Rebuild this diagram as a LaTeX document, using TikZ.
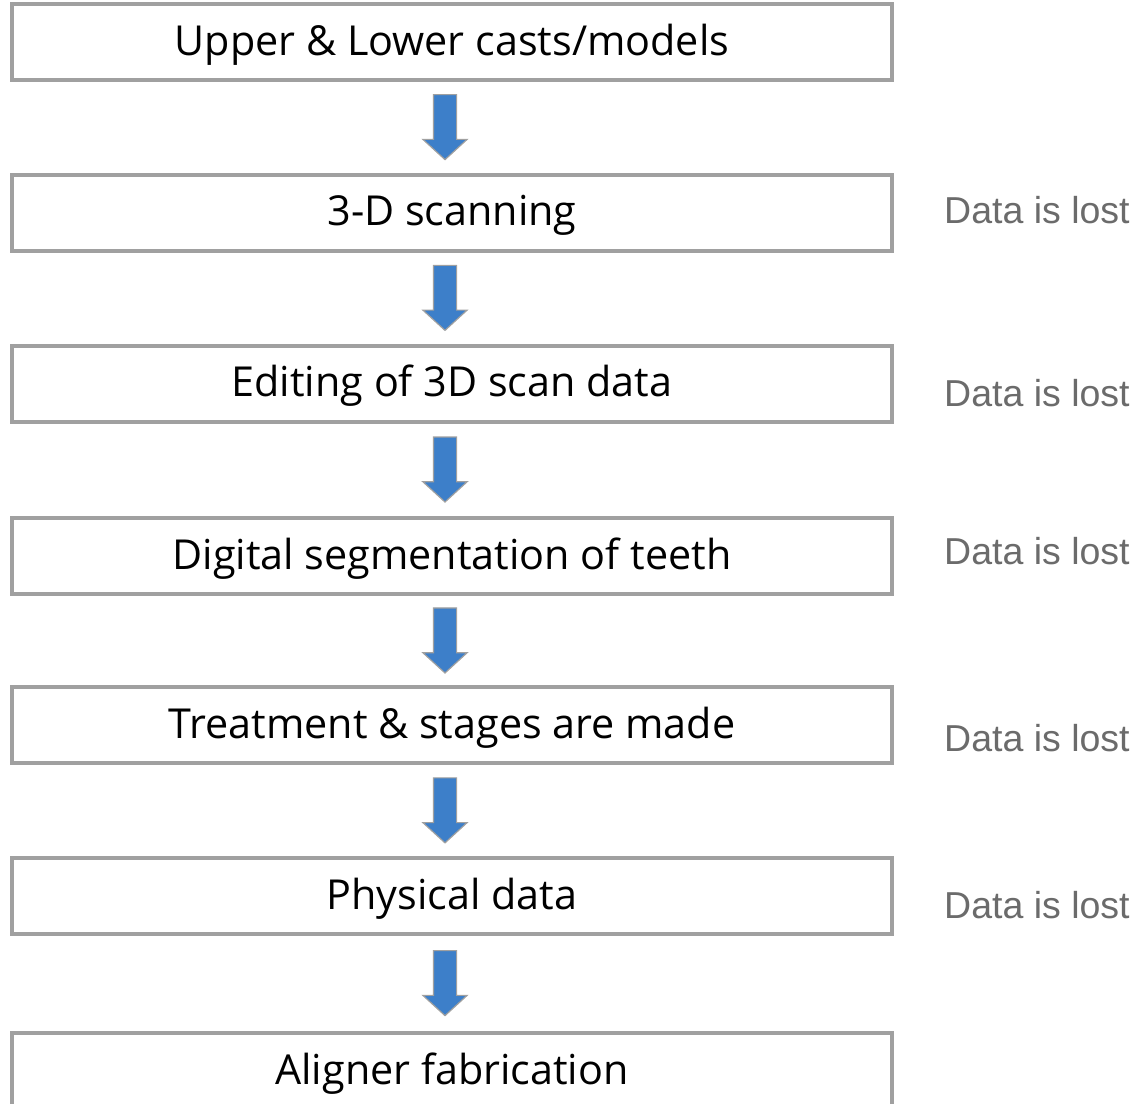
\documentclass[tikz,border=0pt]{standalone}
\usepackage{fontspec}
\setmainfont{Open Sans}
\newfontfamily\lostfont{Liberation Sans}
\usetikzlibrary{shapes.arrows}
\definecolor{boxgray}{HTML}{A0A0A0}
\definecolor{flowblue}{HTML}{3D7FC9}
\definecolor{lostgray}{HTML}{6B6B6B}

\begin{document}
\begin{tikzpicture}[x=1pt,y=-1pt,
  stage/.style={draw=boxgray, line width=4pt, minimum width=880pt, minimum height=76pt, inner sep=0pt,
    text height=32pt, text depth=6pt, font=\fontsize{41.3}{48}\selectfont},
  lost/.style={anchor=west, inner sep=0pt, text=lostgray, font=\lostfont\fontsize{37.5}{44}\selectfont},
  flow/.style={single arrow, draw=boxgray, line width=1.2pt, fill=flowblue, minimum height=65pt,
    single arrow head extend=10.5pt, single arrow tip angle=95, inner xsep=0pt, inner ysep=11pt, sloped, pos=0.44}]
\useasboundingbox (0,0) rectangle (1139,1103);

\node[stage] (cast) at (452,42) {Upper \& Lower casts/models};
\node[stage] (scan) at (452,212.5) {3-D scanning};
\node[stage] (edit) at (452,383.5) {Editing of 3D scan data};
\node[stage] (seg) at (452,556) {Digital segmentation of teeth};
\node[stage] (treat) at (452,725) {Treatment \& stages are made};
\node[stage] (phys) at (452,896) {Physical data};
\node[stage] (fab) at (452,1071) {Aligner fabrication};

% arrows between the stages
\path ([xshift=-7pt]cast.south) -- node[flow] (a1) {} ([xshift=-7pt]scan.north);
\path ([xshift=-7pt]scan.south) -- node[flow] (a2) {} ([xshift=-7pt]edit.north);
\path ([xshift=-7pt]edit.south) -- node[flow] (a3) {} ([xshift=-7pt]seg.north);
\path ([xshift=-7pt]seg.south) -- node[flow] (a4) {} ([xshift=-7pt]treat.north);
\path ([xshift=-7pt]treat.south) -- node[flow] (a5) {} ([xshift=-7pt]phys.north);
\path ([xshift=-7pt]phys.south) -- node[flow] (a6) {} ([xshift=-7pt]fab.north);

\node[lost] (lost1) at (944,210) {Data is lost};
\node[lost] (lost2) at (944,393) {Data is lost};
\node[lost] (lost3) at (944,551) {Data is lost};
\node[lost] (lost4) at (944,738) {Data is lost};
\node[lost] (lost5) at (944,905) {Data is lost};
\end{tikzpicture}
\end{document}
